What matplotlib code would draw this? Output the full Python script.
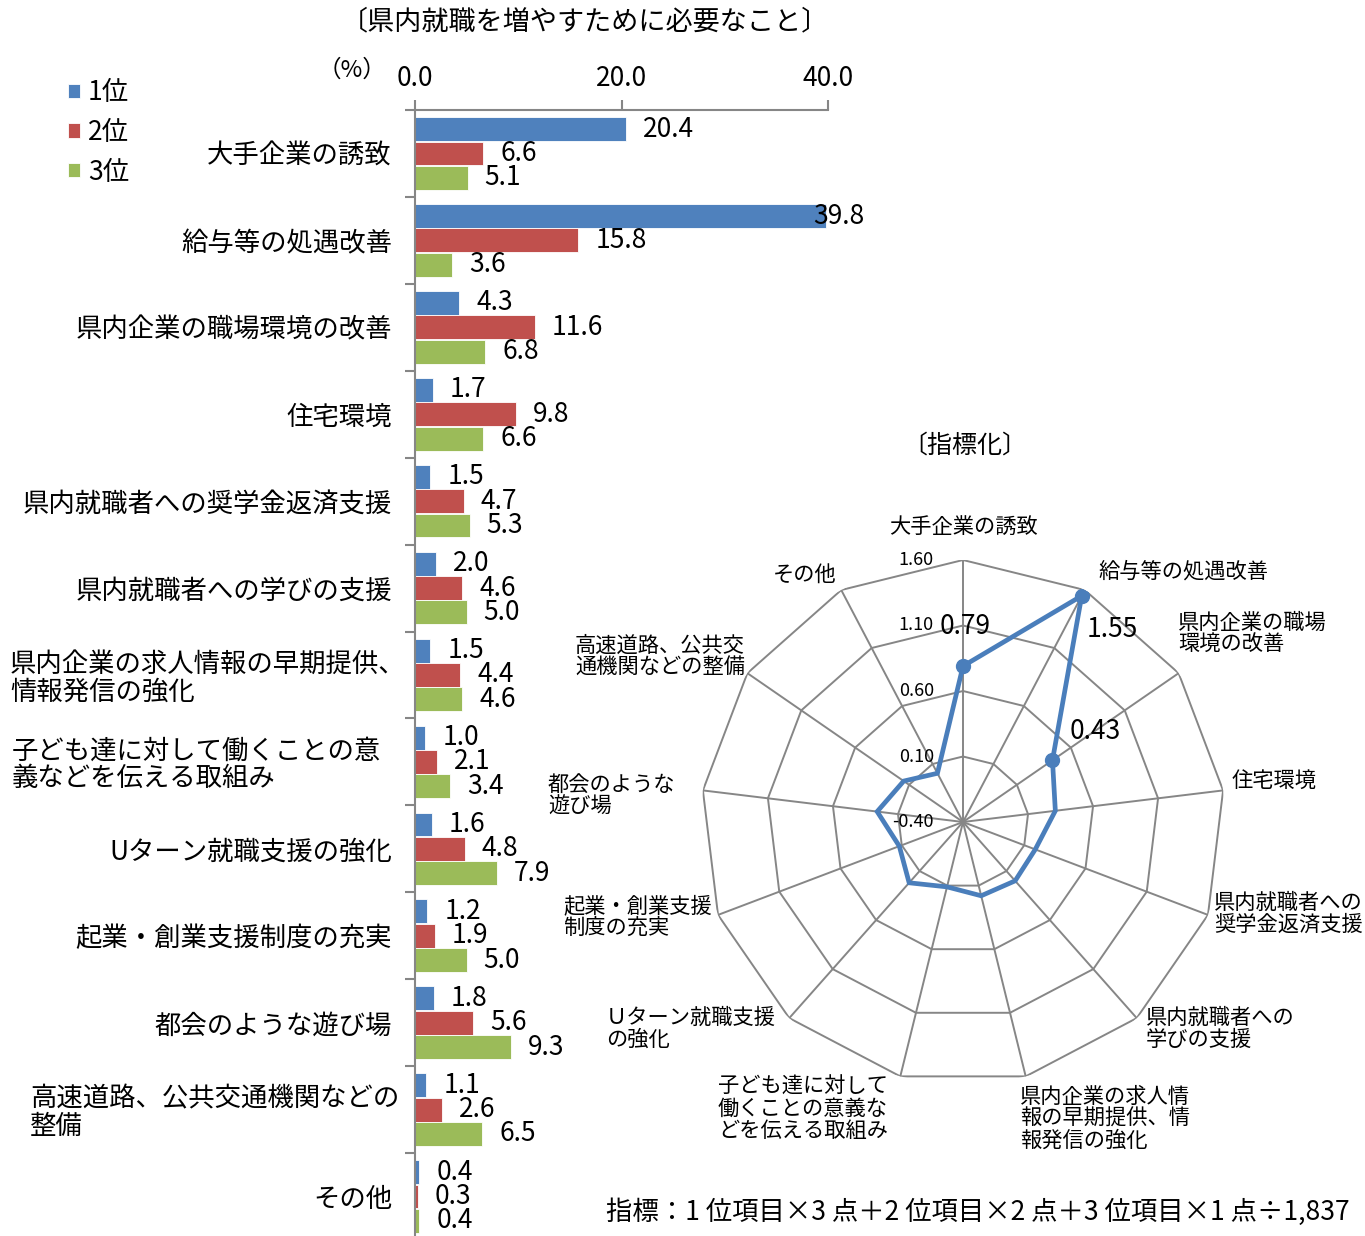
import numpy as np
import matplotlib
matplotlib.use("Agg")
import matplotlib.pyplot as plt
from matplotlib.transforms import blended_transform_factory, ScaledTranslation

plt.rcParams['font.family'] = ['Noto Sans CJK JP', 'DejaVu Sans']

# ---- data ----
categories = [
    "大手企業の誘致",
    "給与等の処遇改善",
    "県内企業の職場環境の改善",
    "住宅環境",
    "県内就職者への奨学金返済支援",
    "県内就職者への学びの支援",
    "県内企業の求人情報の早期提供、\n情報発信の強化",
    "子ども達に対して働くことの意\n義などを伝える取組み",
    "Uターン就職支援の強化",
    "起業・創業支援制度の充実",
    "都会のような遊び場",
    "高速道路、公共交通機関などの\n整備",
    "その他",
]
rank1 = [20.4, 39.8, 4.3, 1.7, 1.5, 2.0, 1.5, 1.0, 1.6, 1.2, 1.8, 1.1, 0.4]
rank2 = [6.6, 15.8, 11.6, 9.8, 4.7, 4.6, 4.4, 2.1, 4.8, 1.9, 5.6, 2.6, 0.3]
rank3 = [5.1, 3.6, 6.8, 6.6, 5.3, 5.0, 4.6, 3.4, 7.9, 5.0, 9.3, 6.5, 0.4]
series_names = ["1位", "2位", "3位"]
x_ticks = [0, 20, 40]
x_ticklabels = ["0.0", "20.0", "40.0"]

radar_labels = [
    "大手企業の誘致",
    "給与等の処遇改善",
    "県内企業の職場\n環境の改善",
    "住宅環境",
    "県内就職者への\n奨学金返済支援",
    "県内就職者への\n学びの支援",
    "県内企業の求人情\n報の早期提供、情\n報発信の強化",
    "子ども達に対して\n働くことの意義な\nどを伝える取組み",
    "Ｕターン就職支援\nの強化",
    "起業・創業支援\n制度の充実",
    "都会のような\n遊び場",
    "高速道路、公共交\n通機関などの整備",
    "その他",
]
radar_values = [0.79, 1.55, 0.43, 0.31, 0.19, 0.20, 0.18, 0.11, 0.22, 0.12, 0.26, 0.15, 0.02]
radar_rings = [-0.40, 0.10, 0.60, 1.10, 1.60]
radar_labeled = [0, 1, 2]

# ---- styling ----
W, H = 1365, 1236
BLUE, RED, GREEN = "#4F81BD", "#C0504D", "#9BBB59"
LINE = "#4A7EBB"
GRID = "#868686"


def fx(px):
    return px / W


def fy(py):
    return 1 - py / H


fig = plt.figure(figsize=(W / 100, H / 100), dpi=100)

# ---- grouped horizontal bars ----
ax = fig.add_axes([fx(415), fy(1240), fx(828) - fx(415), (1240 - 110) / H])
idx = np.arange(len(categories))
bh = 0.28
colors = [BLUE, RED, GREEN]
bars = []
for k, (vals, col) in enumerate(zip([rank1, rank2, rank3], colors)):
    ypos = idx + (k - 1) * bh
    b = ax.barh(ypos, vals, height=bh - 0.005, color=col, edgecolor="white",
                linewidth=0.6, label=series_names[k])
    bars.append(b)
    for v, y in zip(vals, ypos):
        off = 17 if v < 38 else -13
        ax.annotate(f"{v:.1f}", xy=(v, y), xytext=(off, 0), textcoords="offset pixels",
                    ha="left", va="center", fontsize=19)

ax.set_xlim(0, 40)
ax.set_ylim(len(categories) - 0.5, -0.5)
ax.xaxis.tick_top()
ax.set_xticks(x_ticks)
ax.set_xticklabels(x_ticklabels)
ax.tick_params(axis="x", direction="out", length=7, width=1.5, color=GRID,
               labelsize=19, pad=6)
ax.set_yticks(np.arange(len(categories) + 1) - 0.5)
ax.set_yticklabels([])
ax.tick_params(axis="y", which="major", direction="out", length=7, width=1.5, color=GRID)
for s in ["right", "bottom"]:
    ax.spines[s].set_visible(False)
for s in ["left", "top"]:
    ax.spines[s].set_color(GRID)
    ax.spines[s].set_linewidth(1.5)

# category names: single-line ones right-aligned beside the axis,
# wrapped ones start from a fixed left margin
label_tf = blended_transform_factory(fig.transFigure, ax.transData) + \
    ScaledTranslation(0, -3 / 100, fig.dpi_scale_trans)
wrapped_left = {6: 10, 7: 12, 11: 30}
for i, lab in enumerate(categories):
    if i in wrapped_left:
        ax.text(fx(wrapped_left[i]), i, lab, transform=label_tf, ha="left", va="center",
                fontsize=19, linespacing=1.02, multialignment="left")
    else:
        ax.text(fx(392), i, lab, transform=label_tf, ha="right", va="center", fontsize=19)

fig.text(fx(352), fy(70), "（%）", ha="center", va="center", fontsize=17)
fig.text(fx(585), fy(22), "〔県内就職を増やすために必要なこと〕", ha="center", va="center",
         fontsize=19.5)
fig.legend(handles=bars, labels=series_names, loc="upper left",
           bbox_to_anchor=(fx(55), fy(66)), frameon=False, fontsize=19,
           handlelength=0.45, handleheight=0.45, handletextpad=0.3, labelspacing=0.48,
           borderpad=0)

# ---- radar ----
rax = fig.add_axes([fx(701), fy(1084), 524 / W, 524 / H], projection="polar")
rax.set_theta_zero_location("N")
rax.set_theta_direction(-1)
rax.set_ylim(radar_rings[0], radar_rings[-1])
rax.grid(False)
rax.spines["polar"].set_visible(False)
rax.set_xticks([])
rax.set_yticks([])
rax.patch.set_alpha(0)

n = len(radar_values)
angles = np.arange(n) * 2 * np.pi / n
closed_ang = np.append(angles, angles[0])
for r in radar_rings[1:]:
    rax.plot(closed_ang, [r] * (n + 1), color=GRID, lw=1.4, zorder=1)
for a in angles:
    rax.plot([a, a], [radar_rings[0], radar_rings[-1]], color=GRID, lw=1.4, zorder=1)
for r in radar_rings:
    rax.annotate(f"{r:.2f}", xy=(0, r), xytext=(-29, 0), textcoords="offset pixels",
                 ha="right", va="center", fontsize=13, zorder=2)

rax.plot(closed_ang, np.append(radar_values, radar_values[0]), color=LINE, lw=3.4,
         zorder=5, solid_joinstyle="miter")
rax.plot(angles[radar_labeled], np.array(radar_values)[radar_labeled], "o", color=LINE,
         ms=10, zorder=6)
label_offsets = {0: (-23, 40), 1: (5, -34), 2: (17, 29)}
for i in radar_labeled:
    dx, dy = label_offsets[i]
    rax.annotate(f"{radar_values[i]:.2f}", xy=(angles[i], radar_values[i]),
                 xytext=(dx, dy), textcoords="offset pixels", ha="left", va="center",
                 fontsize=19, zorder=7)

# category names around the radar: (x, y, ha)
label_pos = [
    (963, 527, "center"), (1098, 572, "left"), (1178, 634, "left"), (1232, 781, "left"),
    (1214, 914, "left"), (1146, 1029, "left"), (1020, 1119, "left"), (718, 1109, "left"),
    (606, 1029, "left"), (563, 917, "left"), (548, 796, "left"), (575, 657, "left"),
    (805, 576, "center"),
]
for lab, (px, py, ha) in zip(radar_labels, label_pos):
    fig.text(fx(px), fy(py), lab, ha=ha, va="center", fontsize=15.3, linespacing=1.0,
             multialignment="left")

fig.text(fx(965), fy(446), "〔指標化〕", ha="center", va="center", fontsize=18)
fig.text(fx(1350), fy(1212), "指標：1 位項目×3 点＋2 位項目×2 点＋3 位項目×1 点÷1,837",
         ha="right", va="center", fontsize=19)

fig.savefig("out.png", dpi=100)
